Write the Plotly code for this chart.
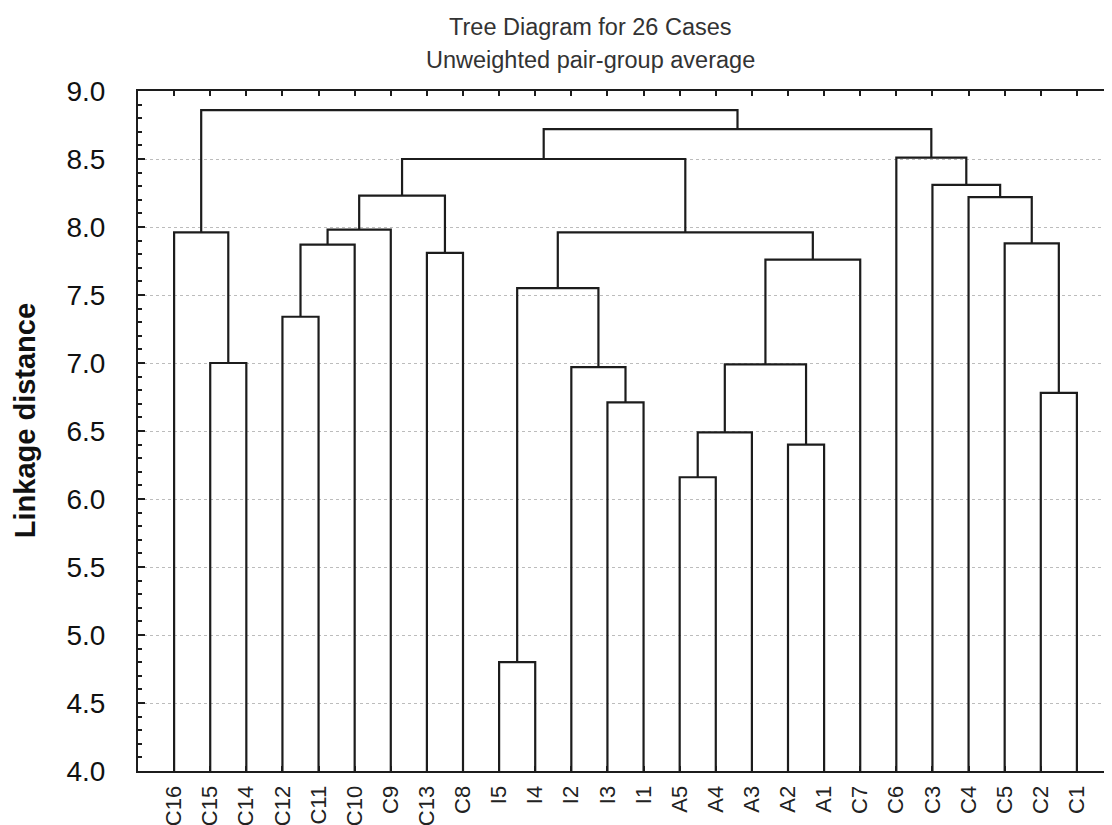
import plotly.graph_objects as go

# ---- data ----
leaves = ["C16", "C15", "C14", "C12", "C11", "C10", "C9", "C13", "C8", "I5", "I4",
          "I2", "I3", "I1", "A5", "A4", "A3", "A2", "A1", "C7", "C6", "C3", "C4",
          "C5", "C2", "C1"]

# merges: children are leaf names or earlier merge ids "M<k>"
merge_left = ["I5", "A5", "A2", "M1", "I3", "C2", "I2", "M3", "C15", "C12", "M0",
              "M7", "C13", "M9", "C5", "C16", "M10", "M13", "C4", "M17", "C3",
              "M19", "C6", "M21", "M15"]
merge_right = ["I4", "A4", "A1", "A3", "I1", "C1", "M4", "M2", "C14", "C11", "M6",
               "C7", "C8", "C10", "M5", "M8", "M11", "C9", "M14", "M12", "M18",
               "M16", "M20", "M22", "M23"]
merge_height = [4.80, 6.16, 6.40, 6.49, 6.71, 6.78, 6.97, 6.99, 7.00, 7.34, 7.55,
                7.76, 7.81, 7.87, 7.88, 7.96, 7.96, 7.98, 8.22, 8.23, 8.31, 8.50,
                8.51, 8.72, 8.86]

y_ticks = [4.0, 4.5, 5.0, 5.5, 6.0, 6.5, 7.0, 7.5, 8.0, 8.5, 9.0]
y_range = [4.0, 9.0]

title_text = "Tree Diagram for 26 Cases"
subtitle_text = "Unweighted pair-group average"
y_title = "Linkage distance"

# ---- build dendrogram segments ----
base = y_range[0]
pos = {name: i + 1 for i, name in enumerate(leaves)}
hgt = {name: base for name in leaves}
xs, ys = [], []
for k, (a, b, h) in enumerate(zip(merge_left, merge_right, merge_height)):
    xa, xb = pos[a], pos[b]
    xs += [xa, xa, xb, xb, None]
    ys += [hgt[a], h, h, hgt[b], None]
    mid = f"M{k}"
    pos[mid] = (xa + xb) / 2
    hgt[mid] = h

line_color = "#1c1c1c"
fig = go.Figure()
fig.add_trace(go.Scatter(x=xs, y=ys, mode="lines",
                         line=dict(color=line_color, width=2.2),
                         hoverinfo="skip", showlegend=False, cliponaxis=False))

# page body has an 8px default margin: plot area target 138..1115 x, 91..771 y
L, T, B, R = 130, 83, 62, 5
plot_w = 1112 - L - R
plot_h = 825 - T - B

def px_x(x):  # page x pixel -> paper coordinate
    return (x - 8 - L) / plot_w

def px_y(y):  # page y pixel -> paper coordinate
    return 1 - (y - 8 - T) / plot_h

font_family = "Arial, Liberation Sans, sans-serif"
fig.update_layout(
    width=1112, height=825,
    margin=dict(l=L, r=R, t=T, b=B),
    paper_bgcolor="white", plot_bgcolor="white",
    font=dict(family=font_family, color="#111111"),
    showlegend=False,
    xaxis=dict(
        range=[0, 27],
        tickvals=list(range(1, len(leaves) + 1)),
        ticktext=leaves,
        tickangle=-90,
        tickfont=dict(size=22, color="#222222"),
        ticks="inside", ticklen=5, tickwidth=2, tickcolor=line_color,
        ticklabelstandoff=4,
        showline=True, linecolor=line_color, linewidth=2, mirror="ticks",
        showgrid=False, zeroline=False,
    ),
    yaxis=dict(
        range=y_range,
        tickvals=y_ticks,
        ticktext=[f"{v:.1f}" for v in y_ticks],
        tickfont=dict(size=28, color="#111111"),
        ticks="inside", ticklen=7, tickwidth=2, tickcolor=line_color,
        ticklabelstandoff=25,
        minor=dict(dtick=0.1, ticks="inside", ticklen=4, tickwidth=1.5,
                   tickcolor=line_color, showgrid=False),
        showline=True, linecolor=line_color, linewidth=2, mirror="ticks",
        showgrid=True, gridcolor="#bcbcbc", griddash="dot", gridwidth=1,
        zeroline=False,
    ),
    annotations=[
        dict(text=title_text, xref="paper", yref="paper",
             x=px_x(591), y=px_y(27),
             xanchor="center", yanchor="middle", showarrow=False,
             font=dict(size=23.5, color="#333333", family=font_family)),
        dict(text=subtitle_text, xref="paper", yref="paper",
             x=px_x(591), y=px_y(60),
             xanchor="center", yanchor="middle", showarrow=False,
             font=dict(size=23.5, color="#333333", family=font_family)),
        dict(text=f"<b>{y_title}</b>", xref="paper", yref="paper",
             x=px_x(25), y=px_y(421), textangle=-90,
             xanchor="center", yanchor="middle", showarrow=False,
             font=dict(size=29, color="#111111", family=font_family)),
    ],
)

fig.write_html("out.html")
